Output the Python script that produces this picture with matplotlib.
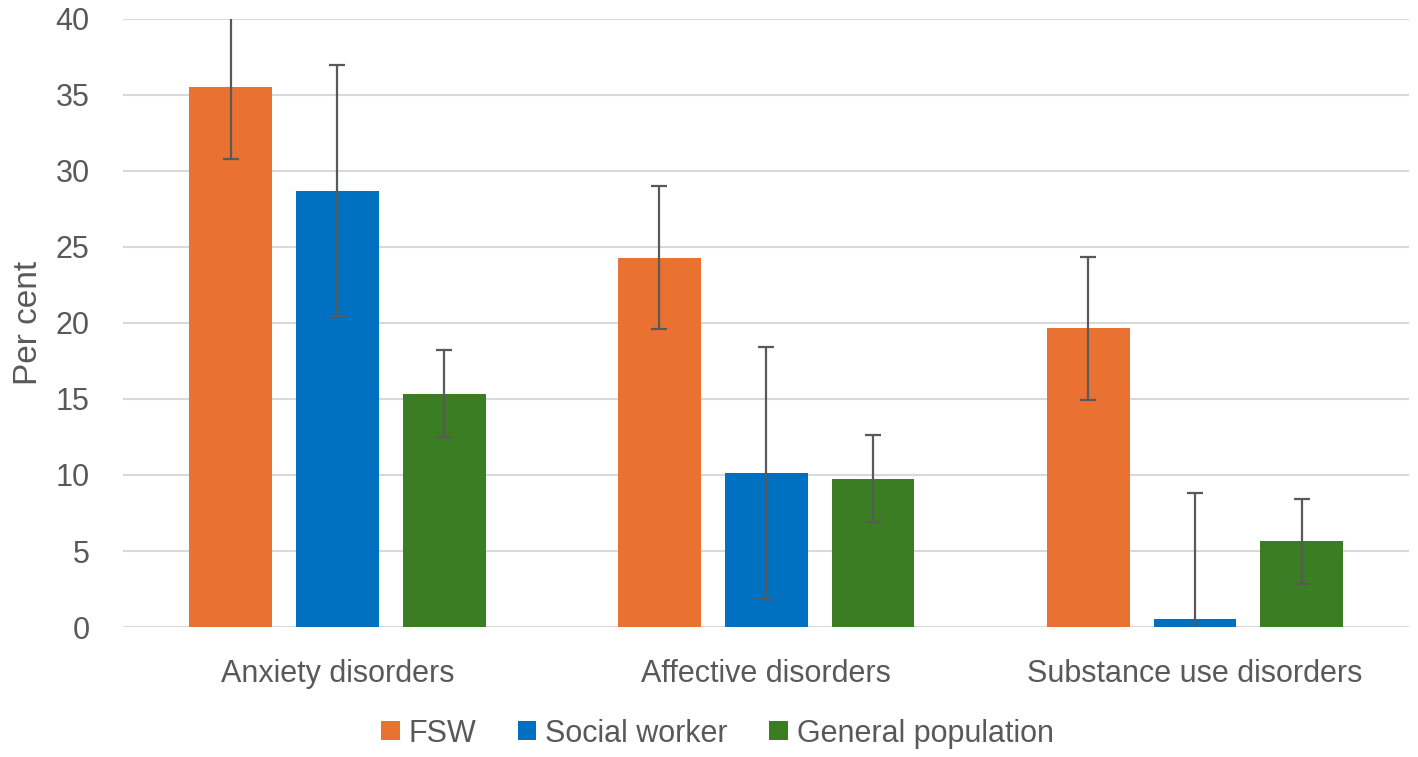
import matplotlib
matplotlib.use('Agg')
import matplotlib.pyplot as plt
import numpy as np

plt.rcParams['font.family'] = ['Liberation Sans', 'DejaVu Sans']

categories = ['Anxiety disorders', 'Affective disorders', 'Substance use disorders']
series = ['FSW', 'Social worker', 'General population']
fsw = [35.5, 24.3, 19.65]
fsw_err = [4.7, 4.7, 4.7]
social = [28.7, 10.15, 0.5]
social_err = [8.25, 8.3, 8.3]
general = [15.35, 9.75, 5.65]
general_err = [2.85, 2.85, 2.8]
colors = ['#E97132', '#0070C0', '#3B7D23']

grey = '#595959'
x = np.arange(len(categories))
width = 0.193
step = 0.249

fig = plt.figure(figsize=(14.18, 7.57), dpi=100)
ax = fig.add_axes([0.0867, 0.1717, 0.9073, 0.8033])

for i, (vals, errs) in enumerate([(fsw, fsw_err), (social, social_err), (general, general_err)]):
    ax.bar(x + (i - 1) * step, vals, width, color=colors[i], label=series[i], zorder=2,
           yerr=errs, error_kw=dict(ecolor=grey, elinewidth=1.6, capsize=6, capthick=1.6, zorder=3))

ax.set_ylim(0, 40)
ax.set_xlim(-0.5, 2.5)
ax.set_yticks(np.arange(0, 41, 5))
ax.set_xticks(x)
ax.set_xticklabels(categories)
ax.yaxis.grid(True, color='#d9d9d9', linewidth=1.5, zorder=0)
ax.set_axisbelow(True)
for s in ax.spines.values():
    s.set_visible(False)
ax.tick_params(axis='both', length=0, labelsize=22, labelcolor=grey)
ax.tick_params(axis='y', pad=24)
ax.tick_params(axis='x', pad=23)
ax.set_ylabel('Per cent', fontsize=24, color=grey, labelpad=8)

fig.legend(loc='center', bbox_to_anchor=(0.506, 0.031), ncol=3, frameon=False,
           fontsize=22, labelcolor=grey, handlelength=0.6, handleheight=0.6,
           handletextpad=0.3, columnspacing=1.35)

fig.savefig('out.png', dpi=100)
